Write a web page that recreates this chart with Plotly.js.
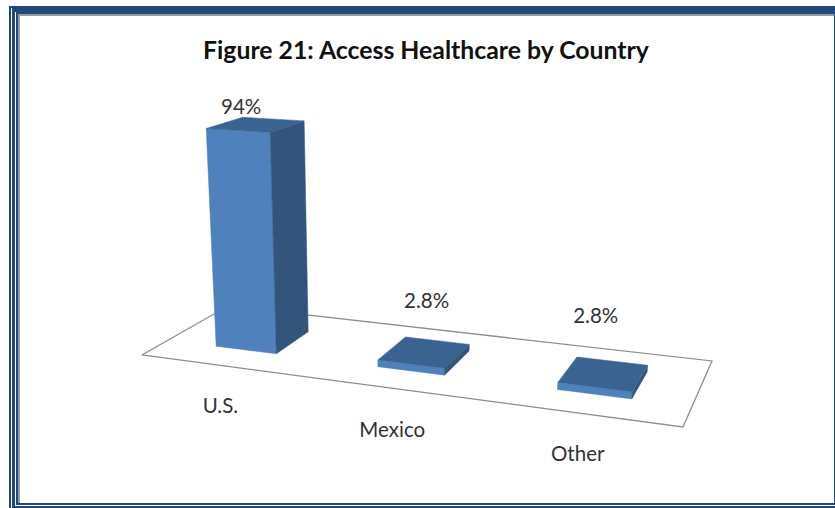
<!DOCTYPE html>
<html><head><meta charset="utf-8">
<script src="https://cdn.plot.ly/plotly-3.0.1.min.js"></script>
<style>html,body{margin:0;padding:0;background:#fff}#c{width:835px;height:508px}</style>
</head><body><div id="c"></div>
<script>
const categories = ["U.S.", "Mexico", "Other"];
const values = [94, 2.8, 2.8];
const valueLabels = ["94%", "2.8%", "2.8%"];
const chartTitle = "Figure 21: Access Healthcare by Country";

// Perspective floor: unit square -> page pixels
const G=-0.1348,H=-0.1126;
function floor(u,v){const d=1+G*u+H*v;return [(388*u-102*v+228)/d,(6.3*u+9*v+306)/d];}
// Lift a floor point by a value
function lift(p,val){
  const s=2.35+(p[1]-353)*0.005;
  return [p[0]+(p[0]-371)*0.000686*val, p[1]-s*val];
}
const halfW=0.064, uShift=0.003, v0=0.30, v1=0.72;
const labelOffset=[[-14,-16],[3,-49],[-7,-56]];
const catOffset=[[0,42],[2,44],[-2,43]];
const traces=[];
function poly(pts,fill,line){
  const xs=pts.map(p=>p[0]).concat(pts[0][0]),ys=pts.map(p=>p[1]).concat(pts[0][1]);
  traces.push({type:'scatter',mode:'lines',x:xs,y:ys,fill:'toself',fillcolor:fill,
    line:line||{color:fill,width:0.5},hoverinfo:'skip',showlegend:false});
}
poly([floor(0,0),floor(1,0),floor(1,1),floor(0,1)],'#ffffff',{color:'#8e8e8e',width:1.3});
const lx=[],ly=[],cx=[],cy=[];
categories.forEach((c,i)=>{
  const uc=(i+0.5)/3+uShift,val=values[i];
  const nl=floor(uc-halfW,v1),nr=floor(uc+halfW,v1),fr=floor(uc+halfW,v0),fl=floor(uc-halfW,v0);
  const tnl=lift(nl,val),tnr=lift(nr,val),tfr=lift(fr,val),tfl=lift(fl,val);
  poly([nl,nr,tnr,tnl],'#4f81bd');
  poly([nr,fr,tfr,tnr],'#33557c');
  poly([tnl,tnr,tfr,tfl],'#3b6391');
  const tc=[(tnl[0]+tfr[0])/2,(tnl[1]+tfr[1])/2];
  lx.push(tc[0]+labelOffset[i][0]);ly.push(tc[1]+labelOffset[i][1]);
  const f=floor((i+0.5)/3,1);cx.push(f[0]+catOffset[i][0]);cy.push(f[1]+catOffset[i][1]);
});
traces.push({type:'scatter',mode:'text',x:lx,y:ly,text:valueLabels,textposition:'middle center',
  textfont:{family:'Lato',size:20.5,color:'#333333'},hoverinfo:'skip',showlegend:false});
traces.push({type:'scatter',mode:'text',x:cx,y:cy,text:categories,textposition:'middle center',
  textfont:{family:'Lato',size:20.5,color:'#333333'},hoverinfo:'skip',showlegend:false});
const blue='#1f497d';
function R(x0,y0,x1,y1,c){return {type:'rect',xref:'x',yref:'y',x0,y0,x1,y1,fillcolor:c,line:{width:0},layer:'below'};}
const shapes=[
  R(9,6,835,14,blue),
  R(9,6,18,508,blue),
  R(18,14,835,16,'#999999'),R(18,14,20,503,'#999999'),
  R(834,14,835,505,blue),
  R(15,503,835,505,blue),R(12,506,835,508,blue),
  R(11,8,12,508,'#ffffff'),R(15,12,16,506,'#ffffff'),R(15,505,835,506,'#ffffff')
];
Plotly.newPlot('c',traces,{
  width:835,height:508,margin:{l:0,r:0,t:0,b:0},
  paper_bgcolor:'#ffffff',plot_bgcolor:'#ffffff',showlegend:false,
  title:{text:'<b>'+chartTitle+'</b>',x:426/835,y:1-50/508,xanchor:'center',yanchor:'middle',
    font:{family:'Lato',size:24.8,color:'#111111'}},
  xaxis:{range:[0,835],visible:false,fixedrange:true},
  yaxis:{range:[508,0],visible:false,fixedrange:true},
  shapes
},{displayModeBar:false,staticPlot:true});
</script></body></html>
